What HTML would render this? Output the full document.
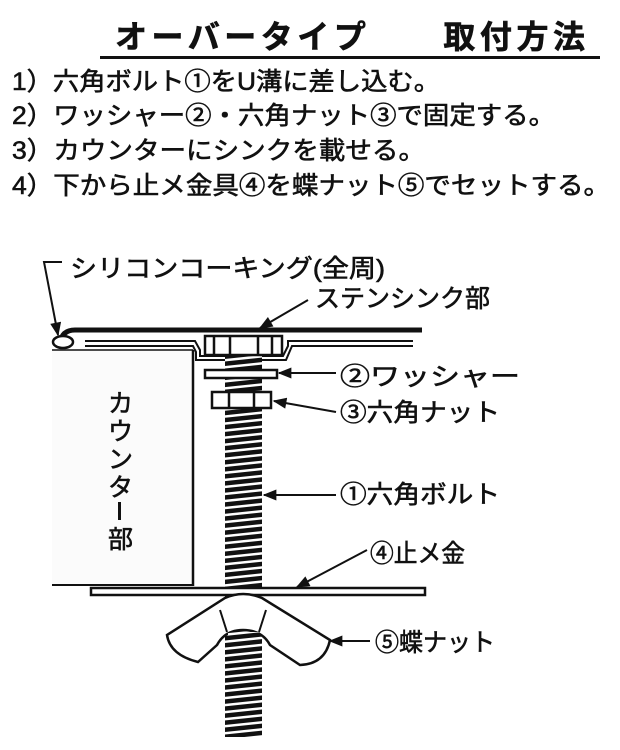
<!DOCTYPE html>
<html><head><meta charset="utf-8"><style>
body{margin:0;background:#fff;}
svg{display:block}
text{font-family:"Liberation Sans","Noto Sans CJK JP",sans-serif;fill:#111;stroke:#111;stroke-width:0.6}
</style></head><body>
<svg width="620" height="750" viewBox="0 0 620 750" xmlns="http://www.w3.org/2000/svg">
<defs>
<pattern id="thr" width="10" height="7" patternUnits="userSpaceOnUse" patternTransform="rotate(-6)">
<rect width="10" height="7" fill="#111"/><rect y="2.5" width="10" height="2.5" fill="#fff"/>
</pattern>
<marker id="arb" viewBox="0 0 10 8" markerWidth="16" markerHeight="11" refX="9" refY="4" orient="auto" markerUnits="userSpaceOnUse">
<path d="M0,0 L10,4 L0,8 Z" fill="#111"/></marker>
</defs>
<!-- title -->
<text x="115" y="48" font-size="32" font-weight="bold" textLength="470" lengthAdjust="spacing">オーバータイプ　　取付方法</text>
<rect x="100" y="56" width="500" height="3" fill="#111"/>
<g font-size="25">
<text x="12" y="90" textLength="428" lengthAdjust="spacingAndGlyphs">1）六角ボルト①をU溝に差し込む。</text>
<text x="12" y="124" textLength="543" lengthAdjust="spacingAndGlyphs">2）ワッシャー②・六角ナット③で固定する。</text>
<text x="12" y="159" textLength="413" lengthAdjust="spacingAndGlyphs">3）カウンターにシンクを載せる。</text>
<text x="12" y="194" textLength="598" lengthAdjust="spacingAndGlyphs">4）下から止メ金具④を蝶ナット⑤でセットする。</text>
</g>
<!-- counter -->
<rect x="52" y="350" width="141" height="235" fill="#fbfbfb"/>
<line x1="52" y1="350" x2="193" y2="350" stroke="#111" stroke-width="1.5"/>
<line x1="193" y1="350" x2="193" y2="586" stroke="#111" stroke-width="2.5"/>
<line x1="52" y1="585" x2="193" y2="585" stroke="#111" stroke-width="2"/>
<g font-size="25">
<text x="108" y="412">カ</text>
<text x="108" y="440">ウ</text>
<text x="108" y="468">ン</text>
<text x="108" y="496">タ</text>
<text x="108" y="548">部</text>
</g>
<rect x="118" y="502" width="3" height="18" fill="#111"/>
<!-- sink -->
<path d="M60,343 Q62,330 75,330 L422,330" fill="none" stroke="#111" stroke-width="5"/>
<ellipse cx="63" cy="342" rx="10" ry="6" fill="#fff" stroke="#111" stroke-width="2.5"/>
<path d="M85,341 L195,341 L200,350 L200,356 L283,356 L288,346 L288,341 L413,341" fill="none" stroke="#111" stroke-width="2"/>
<path d="M85,346 L193,346 L196,352 L196,360 L286,360 L292,346 L413,346" fill="none" stroke="#111" stroke-width="2"/>
<!-- bolt -->
<rect x="225" y="355" width="37" height="382" fill="url(#thr)"/>
<rect x="205" y="336" width="77" height="19" fill="#fff" stroke="#111" stroke-width="2.5"/>
<path d="M214,336V355M230,336V355M258,336V355M272,336V355" stroke="#111" stroke-width="2.5"/>
<rect x="205" y="370" width="72" height="8" fill="#fff" stroke="#111" stroke-width="2.5"/>
<rect x="212" y="392" width="59" height="16" fill="#fff" stroke="#111" stroke-width="2.5"/>
<path d="M229,392V408M254,392V408" stroke="#111" stroke-width="2.5"/>
<!-- plate -->
<rect x="91" y="588" width="334" height="7" fill="#fff" stroke="#111" stroke-width="2.5"/>
<!-- wing nut -->
<path d="M225,598 Q243,590 262,598 L330,640 Q325,664 300,665 L270,645 Q262,630 243,630 Q225,630 217,645 L198,662 Q170,655 167,635 Z" fill="#fff" stroke="#111" stroke-width="2.5"/>
<rect x="228" y="632" width="31" height="105" fill="url(#thr)"/>
<path d="M220,610 L227,632 M266,610 L259,632" stroke="#111" stroke-width="2"/>
<!-- labels -->
<g font-size="25">
<text x="70" y="277" textLength="315" lengthAdjust="spacingAndGlyphs">シリコンコーキング(全周)</text>
<text x="315" y="307" textLength="175" lengthAdjust="spacingAndGlyphs">ステンシンク部</text>
<text x="340" y="385" textLength="180" lengthAdjust="spacingAndGlyphs">②ワッシャー</text>
<text x="340" y="421" textLength="160" lengthAdjust="spacingAndGlyphs">③六角ナット</text>
<text x="340" y="503" textLength="160" lengthAdjust="spacingAndGlyphs">①六角ボルト</text>
<text x="370" y="562" textLength="95" lengthAdjust="spacingAndGlyphs">④止メ金</text>
<text x="375" y="651" textLength="120" lengthAdjust="spacingAndGlyphs">⑤蝶ナット</text>
</g>
<g stroke="#111" stroke-width="2" fill="none" marker-end="url(#arb)">
<path d="M62,262 L44,262 L58,335"/>
<path d="M308,300 L260,328"/>
<path d="M336,373 L279,373"/>
<path d="M336,412 L274,401"/>
<path d="M336,495 L264,495"/>
<path d="M367,550 L297,587"/>
<path d="M370,641 L330,641"/>
</g>
</svg>
</body></html>
